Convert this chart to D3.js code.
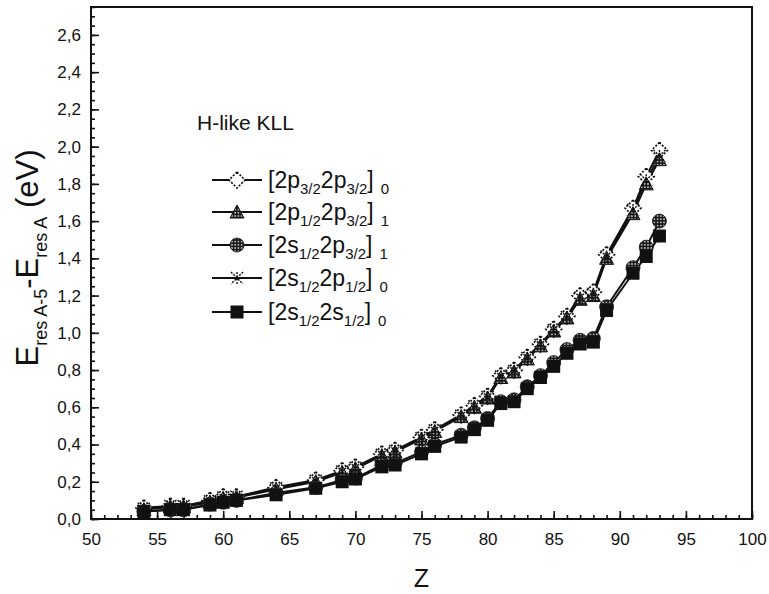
<!DOCTYPE html>
<html><head><meta charset="utf-8">
<script src="https://cdn.jsdelivr.net/npm/d3@7"></script>
<style>body{margin:0;background:#fff}svg{display:block}text{font-family:"Liberation Sans",Arial,sans-serif;fill:#111}</style>
</head><body><svg id="c" width="769" height="594"></svg>
<script>
const zValues = [54,56,57,59,60,61,64,67,69,70,72,73,75,76,78,79,80,81,82,83,84,85,86,87,88,89,91,92,93];
const s2p32_2p32_0 = [.06,.07,.07,.10,.12,.12,.17,.21,.26,.28,.35,.37,.44,.48,.56,.61,.66,.77,.80,.87,.94,1.02,1.09,1.20,1.22,1.42,1.67,1.84,1.98];
const s2p12_2p32_1 = [.05,.065,.065,.09,.11,.115,.16,.20,.25,.27,.34,.36,.43,.47,.55,.60,.65,.76,.79,.86,.93,1.01,1.08,1.18,1.20,1.40,1.64,1.80,1.93];
const s2s12_2p32_1 = [.04,.05,.05,.08,.09,.10,.14,.17,.21,.22,.29,.30,.36,.40,.45,.49,.54,.63,.64,.71,.77,.84,.91,.96,.97,1.14,1.35,1.46,1.60];
const s2s12_2p12_0 = [.055,.07,.07,.095,.115,.12,.165,.205,.255,.275,.345,.365,.435,.475,.555,.605,.655,.765,.795,.865,.935,1.015,1.085,1.19,1.21,1.41,1.66,1.82,1.95];
const s2s12_2s12_0 = [.04,.05,.05,.075,.09,.10,.13,.165,.20,.215,.28,.29,.35,.39,.44,.48,.53,.62,.63,.70,.76,.82,.89,.94,.95,1.12,1.32,1.41,1.52];
const xTicks = [50,55,60,65,70,75,80,85,90,95,100];
const yTicks = [0,0.2,0.4,0.6,0.8,1.0,1.2,1.4,1.6,1.8,2.0,2.2,2.4,2.6];
const seriesNames = [
  {a:"2p",b:"3/2",c:"2p",d:"3/2",j:"0"},
  {a:"2p",b:"1/2",c:"2p",d:"3/2",j:"1"},
  {a:"2s",b:"1/2",c:"2p",d:"3/2",j:"1"},
  {a:"2s",b:"1/2",c:"2p",d:"1/2",j:"0"},
  {a:"2s",b:"1/2",c:"2s",d:"1/2",j:"0"}
];
const seriesValues = [s2p32_2p32_0, s2p12_2p32_1, s2s12_2p32_1, s2s12_2p12_0, s2s12_2s12_0];
const markerKinds = ["diamond","triangle","circle","cross","square"];

const svg = d3.select("#c");
const L=91, R=752, T=7, B=519;
const x = d3.scaleLinear().domain([50,100]).range([L,R]);
const y = d3.scaleLinear().domain([0,2.75]).range([B,T]);

const defs = svg.append("defs");
const pd = defs.append("pattern").attr("id","dots").attr("width",3.2).attr("height",3.2).attr("patternUnits","userSpaceOnUse");
pd.append("rect").attr("width",3.2).attr("height",3.2).attr("fill","#1a1a1a");
pd.append("circle").attr("cx",1.6).attr("cy",1.6).attr("r",0.75).attr("fill","#fff");

function drawMarker(g, kind, cx, cy){
  const s = 7;
  if(kind==="diamond"){
    g.append("path").attr("d",`M${cx},${cy-s-1}L${cx+s+1},${cy}L${cx},${cy+s+1}L${cx-s-1},${cy}Z`)
     .attr("fill","#fff").attr("stroke","#111").attr("stroke-width",1.7).attr("stroke-dasharray","2,1.6");
  } else if(kind==="triangle"){
    g.append("path").attr("d",`M${cx},${cy-s}L${cx+s},${cy+s-1}L${cx-s},${cy+s-1}Z`)
     .attr("fill","url(#dots)").attr("stroke","#111").attr("stroke-width",1);
  } else if(kind==="circle"){
    g.append("circle").attr("cx",cx).attr("cy",cy).attr("r",s).attr("fill","url(#dots)").attr("stroke","#111").attr("stroke-width",0.8);
  } else if(kind==="cross"){
    g.append("path").attr("d",`M${cx-s+1},${cy-s+1}L${cx+s-1},${cy+s-1}M${cx+s-1},${cy-s+1}L${cx-s+1},${cy+s-1}M${cx},${cy-s+1}L${cx},${cy+s-1}`)
     .attr("stroke","#111").attr("stroke-width",1.4).attr("stroke-dasharray","2,1.3").attr("fill","none");
  } else {
    g.append("rect").attr("x",cx-s+0.5).attr("y",cy-s+0.5).attr("width",2*s-1).attr("height",2*s-1).attr("fill","#111");
  }
}

// axes with inward ticks
const ax = svg.append("g").attr("transform",`translate(0,${B})`);
ax.call(d3.axisBottom(x).tickValues(d3.range(50,101,1)).tickSize(-4).tickFormat(""));
ax.append("g").call(d3.axisBottom(x).tickValues(xTicks).tickSize(-8).tickPadding(14).tickFormat(d3.format("d")));
const ay = svg.append("g").attr("transform",`translate(${L},0)`);
ay.call(d3.axisLeft(y).tickValues(d3.range(0,2.751,0.05)).tickSize(-4).tickFormat(""));
ay.append("g").call(d3.axisLeft(y).tickValues(yTicks).tickSize(-8).tickPadding(10).tickFormat(d=>d3.format(".1f")(d).replace(".",",")));
svg.selectAll(".domain").remove();
svg.selectAll(".tick line").attr("stroke","#111").attr("stroke-width",1.6);
svg.selectAll(".tick text").attr("font-size",17).attr("fill","#111").attr("font-family","Liberation Sans, Arial, sans-serif");
svg.append("rect").attr("x",L).attr("y",T).attr("width",R-L).attr("height",B-T).attr("fill","none").attr("stroke","#111").attr("stroke-width",2);

// lines
const line = d3.line().x((d,i)=>x(zValues[i])).y(d=>y(d));
seriesValues.forEach(v=>{
  svg.append("path").datum(v).attr("d",line).attr("fill","none").attr("stroke","#111").attr("stroke-width",2);
});
seriesValues.forEach((v,k)=>{
  const g = svg.append("g");
  v.forEach((d,i)=>drawMarker(g, markerKinds[k], x(zValues[i]), y(d)));
});

// annotation
svg.append("text").attr("x",197).attr("y",130).attr("font-size",21).text("H-like KLL");

// legend
const legY = [180,212,245,278,312];
seriesNames.forEach((n,k)=>{
  const g = svg.append("g");
  g.append("line").attr("x1",212).attr("x2",262).attr("y1",legY[k]).attr("y2",legY[k]).attr("stroke","#111").attr("stroke-width",2);
  drawMarker(g, markerKinds[k], 237, legY[k]);
  const t = g.append("text").attr("x",268).attr("y",legY[k]+8).attr("font-size",23);
  t.append("tspan").text("["+n.a);
  t.append("tspan").attr("font-size",15).attr("dy",6).text(n.b);
  t.append("tspan").attr("dy",-6).text(n.c);
  t.append("tspan").attr("font-size",15).attr("dy",6).text(n.d);
  t.append("tspan").attr("dy",-6).text("]");
  t.append("tspan").attr("font-size",15).attr("dy",6).attr("dx",7).text(n.j);
});

// axis titles
svg.append("text").attr("x",x(75)).attr("y",587).attr("text-anchor","middle").attr("font-size",25).text("Z");
const yl = svg.append("text").attr("transform","translate(38,258) rotate(-90)").attr("text-anchor","middle").attr("font-size",31);
yl.append("tspan").text("E");
yl.append("tspan").attr("font-size",18).attr("dy",9).text("res A-5");
yl.append("tspan").attr("dy",-9).text("-E");
yl.append("tspan").attr("font-size",18).attr("dy",9).text("res A");
yl.append("tspan").attr("dy",-9).text(" (eV)");
</script></body></html>
